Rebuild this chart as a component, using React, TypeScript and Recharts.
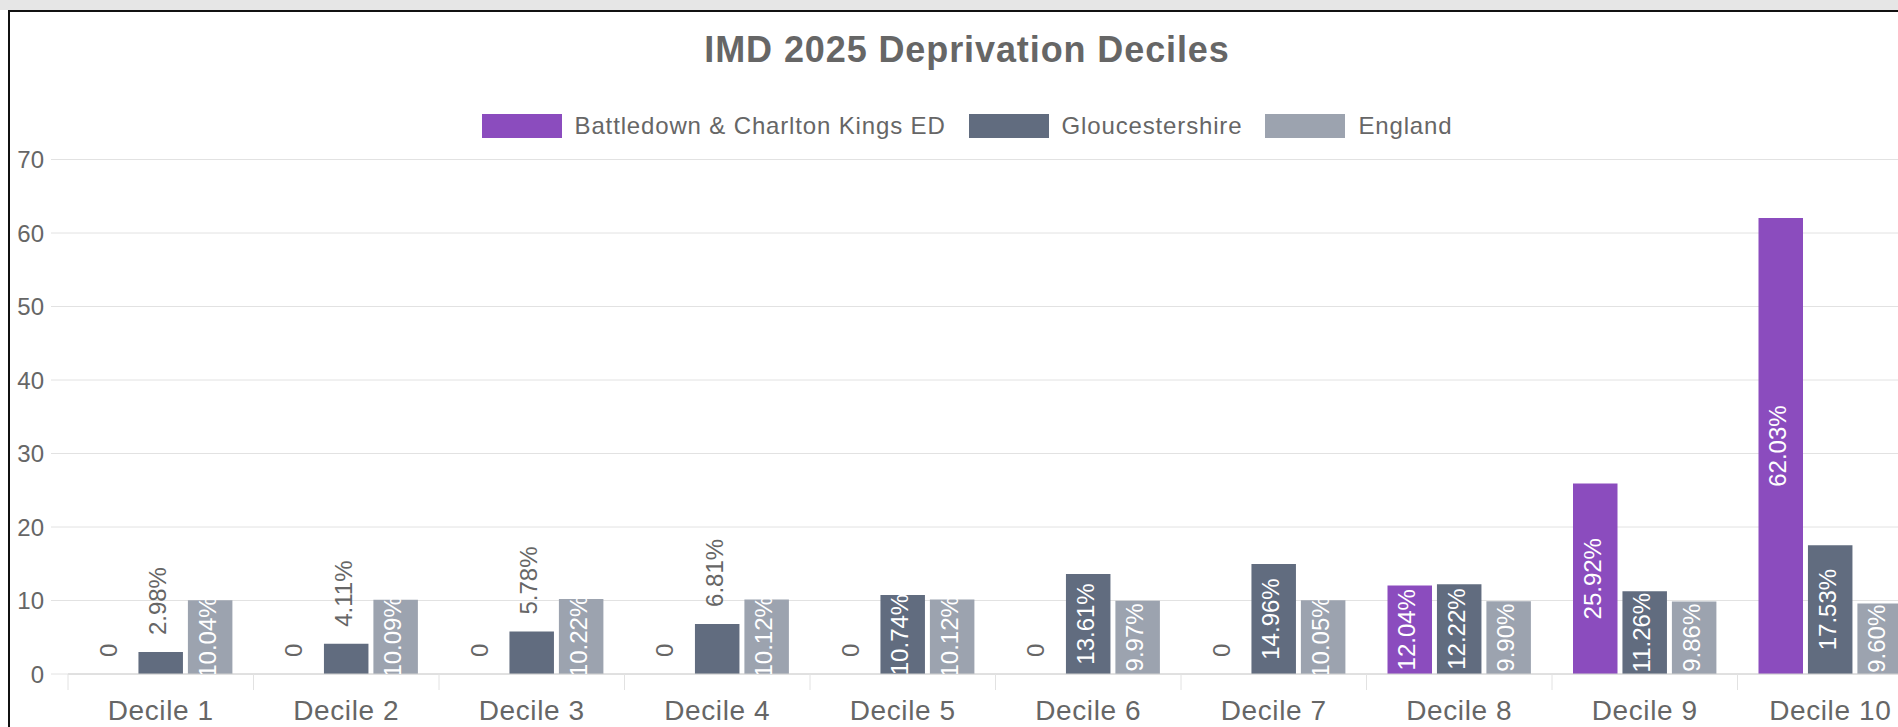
import React from 'react';
import { BarChart, Bar, XAxis, YAxis, CartesianGrid, Legend, LabelList } from 'recharts';

const categories = ['Decile 1', 'Decile 2', 'Decile 3', 'Decile 4', 'Decile 5', 'Decile 6', 'Decile 7', 'Decile 8', 'Decile 9', 'Decile 10'];
const battledown = [0, 0, 0, 0, 0, 0, 0, 12.04, 25.92, 62.03];
const gloucestershire = [2.98, 4.11, 5.78, 6.81, 10.74, 13.61, 14.96, 12.22, 11.26, 17.53];
const england = [10.04, 10.09, 10.22, 10.12, 10.12, 9.97, 10.05, 9.9, 9.86, 9.6];
const yTicks = [0, 10, 20, 30, 40, 50, 60, 70];
const seriesNames = ['Battledown & Charlton Kings ED', 'Gloucestershire', 'England'];
const seriesColors = ['#8B4CBE', '#616C7F', '#9CA3AF'];
const titleText = 'IMD 2025 Deprivation Deciles';

const data = categories.map((c, i) => ({
  name: c,
  battledown: battledown[i],
  gloucestershire: gloucestershire[i],
  england: england[i],
}));

const FONT = '"Liberation Sans", Arial, Helvetica, sans-serif';
const TEXT = '#666666';
const GRID = '#e2e2e2';

const fmt = (v: number) => (v === 0 ? '0' : v.toFixed(2) + '%');

function makeLabel(key: string) {
  return (props: any) => {
    const vb = props.viewBox || {};
    const x = Number(props.x ?? vb.x);
    const y = Number(props.y ?? vb.y);
    const w = Number(props.width ?? vb.width);
    const h = Number(props.height ?? vb.height) || 0;
    const v = Number(props.value);
    if (!isFinite(x) || !isFinite(y) || !isFinite(v)) return null;
    const cx = x + w / 2 - 3;
    if (v >= 8) {
      const cy = y + h / 2;
      const id = `clip-${key}-${props.index}`;
      return (
        <g>
          <defs>
            <clipPath id={id}>
              <rect x={x - 20} y={y - 200} width={w + 40} height={h + 200} />
            </clipPath>
          </defs>
          <g clipPath={`url(#${id})`}>
            <text
              transform={`translate(${cx},${cy}) rotate(-90)`}
              textAnchor="middle"
              dominantBaseline="central"
              fill="#ffffff"
              fontSize={24}
              fontFamily={FONT}
            >
              {fmt(v)}
            </text>
          </g>
        </g>
      );
    }
    return (
      <text
        transform={`translate(${cx},${y + h - Math.max(h, v * 0) - 17}) rotate(-90)`}
        textAnchor="start"
        dominantBaseline="central"
        fill={TEXT}
        fontSize={24}
        fontFamily={FONT}
      >
        {fmt(v)}
      </text>
    );
  };
}

const XTick = (props: any) => {
  const { x, y, payload } = props;
  const half = payload && payload.offset != null ? Number(payload.offset) : 0;
  const bx = x - half;
  return (
    <g>
      <line x1={bx} x2={bx} y1={y - 26} y2={y - 10} stroke={GRID} />
      <text
        x={x}
        y={y}
        dy="0.71em"
        textAnchor="middle"
        fill={TEXT}
        fontSize={28}
        fontFamily={FONT}
        style={{ letterSpacing: '0.6px' }}
      >
        {payload.value}
      </text>
    </g>
  );
};

const verticalGen = (args: any) => {
  try {
    const s = args.xAxis.scale;
    const bw = typeof s.bandwidth === 'function' ? s.bandwidth() : 0;
    const xs = categories.map((c) => Number(s(c)));
    xs.push(xs[xs.length - 1] + bw);
    return xs.filter((v) => isFinite(v));
  } catch (e) {
    return [];
  }
};

const renderLegend = (props: any) => {
  const payload = [...(props.payload || [])].sort(
    (a: any, b: any) => seriesNames.indexOf(a.value) - seriesNames.indexOf(b.value)
  );
  return (
    <div
      style={{
        display: 'flex',
        justifyContent: 'center',
        alignItems: 'center',
        fontFamily: FONT,
        fontSize: 24,
        color: TEXT,
        lineHeight: '24px',
        letterSpacing: '0.85px',
        whiteSpace: 'nowrap',
      }}
    >
      {payload.map((p: any, i: number) => (
        <div key={i} style={{ display: 'flex', alignItems: 'center', marginLeft: i ? 23 : 0 }}>
          <span style={{ display: 'inline-block', width: 80, height: 24, background: p.color, marginRight: 13, marginTop: 1 }} />
          <span>{p.value}</span>
        </div>
      ))}
    </div>
  );
};

export default function App() {
  return (
    <div style={{ position: 'fixed', left: 0, top: 0, width: 1898, height: 727, overflow: 'hidden', background: '#ffffff' }}>
      <div style={{ position: 'absolute', left: 0, top: 0, width: 1940, height: 740 }}>
        <div
          style={{
            position: 'absolute',
            left: 0,
            top: 32,
            width: 1934,
            textAlign: 'center',
            fontFamily: FONT,
            fontWeight: 'bold',
            fontSize: 36,
            lineHeight: '36px',
            color: TEXT,
            letterSpacing: '0.9px',
            whiteSpace: 'nowrap',
          }}
        >
          {titleText}
        </div>
        <BarChart
          width={1940}
          height={740}
          data={data}
          margin={{ top: 159.5, right: 17, bottom: 6, left: 0 }}
          barGap={4.95}
          barSize={44.5}
        >
          <CartesianGrid stroke={GRID} verticalCoordinatesGenerator={verticalGen} />
          <XAxis
            dataKey="name"
            height={60}
            tickSize={16}
            tickMargin={10}
            tickLine={false}
            axisLine={{ stroke: '#d0d0d0' }}
            tick={<XTick />}
            interval={0}
          />
          <YAxis
            width={68}
            domain={[0, 70]}
            ticks={yTicks}
            tickSize={17}
            tickMargin={7}
            axisLine={false}
            tickLine={{ stroke: GRID }}
            tick={{ fill: TEXT, fontSize: 24, fontFamily: FONT }}
          />
          <Legend
            layout="horizontal"
            verticalAlign="middle"
            align="center"
            content={renderLegend}
            wrapperStyle={{ top: 113, left: 0, width: 1934, height: 26 }}
          />
          <Bar dataKey="battledown" name={seriesNames[0]} fill={seriesColors[0]} minPointSize={0.01} isAnimationActive={false}>
            <LabelList dataKey="battledown" content={makeLabel('b')} />
          </Bar>
          <Bar dataKey="gloucestershire" name={seriesNames[1]} fill={seriesColors[1]} isAnimationActive={false}>
            <LabelList dataKey="gloucestershire" content={makeLabel('g')} />
          </Bar>
          <Bar dataKey="england" name={seriesNames[2]} fill={seriesColors[2]} isAnimationActive={false}>
            <LabelList dataKey="england" content={makeLabel('e')} />
          </Bar>
        </BarChart>
      </div>
      <div style={{ position: 'absolute', left: 0, top: 0, width: 1898, height: 10, background: '#e6e6e6' }} />
      <div style={{ position: 'absolute', left: 8, top: 10, width: 1890, height: 2, background: '#111111' }} />
      <div style={{ position: 'absolute', left: 8, top: 10, width: 2, height: 717, background: '#111111' }} />
    </div>
  );
}
